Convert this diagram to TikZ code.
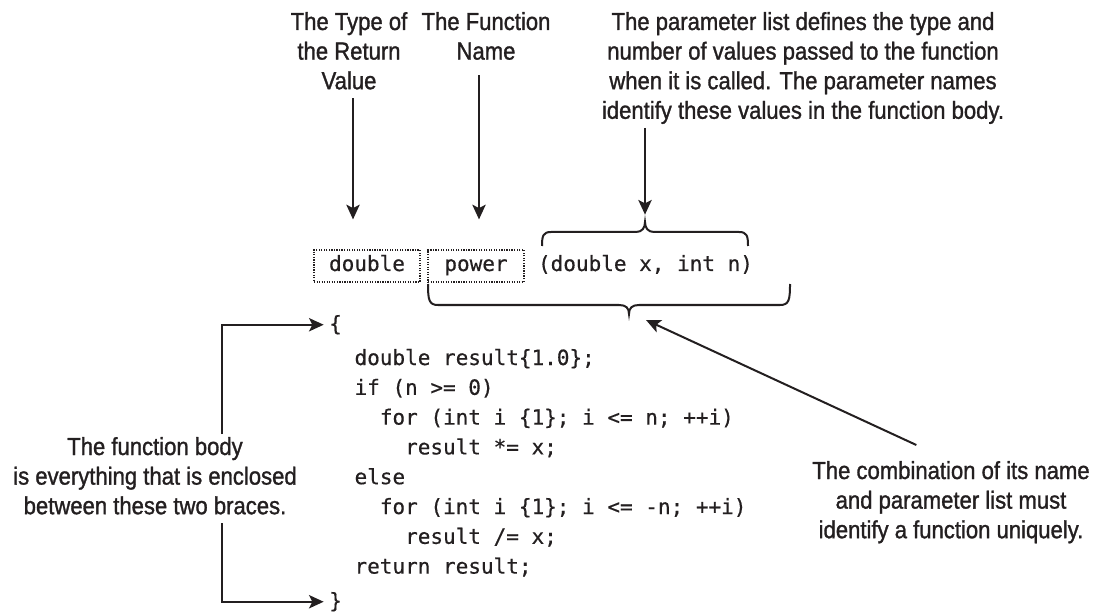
\documentclass[tikz,border=0pt]{standalone}
\usepackage{fontspec}
\setmainfont{Liberation Sans}[FakeStretch=0.895,FakeBold=1.2]
\newfontfamily\codefont{DejaVu Sans Mono}[FakeBold=0.5]
\usetikzlibrary{arrows.meta}
\definecolor{ink}{HTML}{231F20}
\newcommand\ind{\hspace*{1.204em}}
\tikzset{
  lbl/.style={font=\fontsize{18.5pt}{22.2pt}\selectfont, inner sep=0pt, anchor=base, text=ink},
  codetxt/.style={font=\codefont\fontsize{15.75pt}{22.35pt}\selectfont, inner sep=0pt, text=ink},
  dotbox/.style={codetxt, draw=ink, densely dotted, line width=0.9pt, minimum height=24pt, text height=11pt, text depth=3.5pt},
  arr/.style={draw=ink, line width=1.5pt, -{Stealth[length=11pt,width=10pt,inset=2.5pt]}},
  bracepath/.style={draw=ink, line width=1.5pt},
}
\begin{document}
\begin{tikzpicture}[x=0.75pt,y=-0.75pt]
\useasboundingbox (0,0) rectangle (1105,616);

% labels
\node[lbl] (type) at (349,30) {\begin{tabular}[t]{@{}c@{}}The Type of\\the Return\\Value\end{tabular}};
\node[lbl] (fname) at (486,30) {\begin{tabular}[t]{@{}c@{}}The Function\\Name\end{tabular}};
\node[lbl] (param) at (803,30) {\begin{tabular}[t]{@{}c@{}}The parameter list defines the type and\\number of values passed to the function\\when it is called. The parameter names\\identify these values in the function body.\end{tabular}};
\node[lbl] (fbody) at (155,455) {\begin{tabular}[t]{@{}c@{}}The function body\\is everything that is enclosed\\between these two braces.\end{tabular}};
\node[lbl] (cmb) at (951,479) {\begin{tabular}[t]{@{}c@{}}The combination of its name\\and parameter list must\\identify a function uniquely.\end{tabular}};

% header line
\node[dotbox, minimum width=79.5pt] (dbl) at (367,266) {double};
\node[dotbox, minimum width=72pt] (pw) at (476,266) {power};
\node[codetxt, text height=11pt, text depth=3.5pt] (plist) at (645.5,266) {(double x, int n)};

% body
\node[codetxt, anchor=base west] (obrace) at (329,331) {\{};
\node[codetxt, anchor=base west] (body) at (354.3,365) {\begin{tabular}[t]{@{}l@{}}
double result\{1.0\};\\
if (n >= 0)\\
\ind for (int i \{1\}; i <= n; ++i)\\
\ind\ind result *= x;\\
else\\
\ind for (int i \{1\}; i <= -n; ++i)\\
\ind\ind result /= x;\\
return result;
\end{tabular}};
\node[codetxt, anchor=base west] (cbrace) at (329,608) {\}};

% braces
\coordinate (tbcusp) at (645,222);
\coordinate (bbcusp) at (629,314);
\draw[bracepath] (542,246) .. controls (542,236) and (543,232) .. (551,232) -- (636,232)
  .. controls (642,232) and (645,228) .. (tbcusp)
  .. controls (645,228) and (648,232) .. (654,232) -- (739,232)
  .. controls (747,232) and (748,236) .. (748,246);
\draw[bracepath] (428,284) .. controls (428,300) and (429,305) .. (438,305) -- (619,305)
  .. controls (626,305) and (629,308) .. (bbcusp)
  .. controls (629,308) and (632,305) .. (639,305) -- (780,305)
  .. controls (789,305) and (790,300) .. (790,284);

% arrows
\draw[arr, shorten >=22.5pt] ([xshift=3pt]type.south) -- ([xshift=3pt]type.south |- dbl.north);
\draw[arr, shorten <=5pt, shorten >=22.5pt] ([xshift=-5.25pt]fname.south) -- ([xshift=-5.25pt]fname.south |- pw.north);
\draw[arr, shorten >=5.5pt] (param.south -| tbcusp) -- (tbcusp);
\coordinate (bbtip) at (646,320);
\draw[arr] ([xshift=-26pt,yshift=9.75pt]cmb.north) -- (bbtip);
\draw[arr, shorten >=4pt] ([xshift=50.6pt]fbody.north) |- (obrace.west);
\draw[arr, shorten >=4pt] ([xshift=50.6pt]fbody.south) |- (cbrace.west);
\end{tikzpicture}
\end{document}
